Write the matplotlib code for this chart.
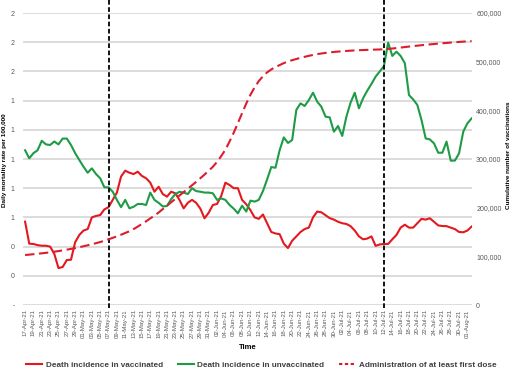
import numpy as np
import pandas as pd
import matplotlib
matplotlib.use('Agg')
import matplotlib.pyplot as plt
from matplotlib.lines import Line2D
from matplotlib.ticker import StrMethodFormatter

plt.rcParams['font.family'] = ['Liberation Sans', 'DejaVu Sans']

# daily series, 17-Apr-21 .. 02-Aug-21
start_date = '2021-04-17'

vaccinated = [
    0.571, 0.42, 0.418, 0.41, 0.406, 0.406, 0.40, 0.35, 0.253, 0.26,
    0.308, 0.31, 0.43, 0.48, 0.51, 0.52, 0.60, 0.61, 0.616, 0.655,
    0.67, 0.72, 0.77, 0.88, 0.92, 0.906, 0.897, 0.913, 0.884, 0.868,
    0.838, 0.776, 0.81, 0.76, 0.742, 0.776, 0.765, 0.72, 0.662, 0.70,
    0.72, 0.70, 0.66, 0.594, 0.632, 0.685, 0.692, 0.747, 0.838, 0.822,
    0.80, 0.80, 0.72, 0.69, 0.65, 0.60, 0.59, 0.62, 0.56, 0.50,
    0.49, 0.485, 0.42, 0.39, 0.44, 0.47, 0.50, 0.52, 0.53, 0.60,
    0.64, 0.635, 0.615, 0.595, 0.585, 0.57, 0.56, 0.555, 0.54, 0.51,
    0.47, 0.45, 0.455, 0.47, 0.405, 0.415, 0.418, 0.418, 0.45, 0.48,
    0.53, 0.55, 0.53, 0.53, 0.56, 0.59, 0.585, 0.594, 0.57, 0.545,
    0.541, 0.54, 0.53, 0.52, 0.50, 0.498, 0.51, 0.537,
]

unvaccinated = [
    1.06, 1.005, 1.04, 1.06, 1.125, 1.10, 1.096, 1.12, 1.10, 1.14,
    1.14, 1.096, 1.04, 0.993, 0.947, 0.906, 0.936, 0.897, 0.868, 0.806,
    0.806, 0.776, 0.72, 0.67, 0.72, 0.662, 0.673, 0.692, 0.692, 0.685,
    0.77, 0.72, 0.70, 0.675, 0.678, 0.725, 0.76, 0.775, 0.77, 0.76,
    0.80, 0.78, 0.776, 0.77, 0.77, 0.765, 0.72, 0.73, 0.72, 0.685,
    0.66, 0.628, 0.68, 0.64, 0.715, 0.708, 0.72, 0.78, 0.86, 0.945,
    0.94, 1.06, 1.148, 1.11, 1.13, 1.336, 1.381, 1.363, 1.404, 1.454,
    1.393, 1.358, 1.29, 1.285, 1.187, 1.226, 1.158, 1.29, 1.386, 1.454,
    1.347, 1.416, 1.468, 1.514, 1.564, 1.60, 1.637, 1.797, 1.706, 1.735,
    1.706, 1.656, 1.438, 1.408, 1.37, 1.267, 1.141, 1.134, 1.107, 1.043,
    1.043, 1.119, 0.989, 0.989, 1.039, 1.187, 1.244, 1.278,
]

first_dose = [
    102700, 103500, 104400, 105300, 106200, 107200, 108300, 109500, 110800, 112200,
    113700, 115300, 117000, 118800, 120700, 122700, 124800, 127000, 129400, 132000,
    135000, 138000, 141200, 144500, 148000, 151500, 156000, 161000, 166500, 172000,
    178000, 183500, 190000, 197000, 204000, 211000, 218000, 225000, 232000, 239000,
    246000, 253000, 260500, 268000, 276000, 284000, 294000, 306000, 319000, 336000,
    354000, 374000, 394000, 414000, 432000, 447000, 460000, 470000, 478000, 484000,
    489000, 493000, 497000, 500500, 503000, 505500, 507800, 510000, 512000, 513800,
    515400, 516800, 518000, 519000, 519900, 520700, 521400, 522000, 522600, 523100,
    523500, 523900, 524200, 524500, 524800, 525100, 525400, 526200, 527000, 528000,
    529000, 530000, 531000, 532000, 532900, 533800, 534700, 535500, 536300, 537100,
    537800, 538500, 539200, 539900, 540600, 541200, 541800, 542500,
]

left_tick_labels = ['-', '0', '0', '1', '1', '1', '1', '1', '2', '2', '2']
marker_dates = ['2021-05-07', '2021-07-12']

dates = pd.date_range(start_date, periods=len(vaccinated))
x = np.arange(len(dates))

red = '#E3191F'
green = '#1E9B45'
dose_red = '#DD1C2E'
grey_txt = '#595959'

fig = plt.figure(figsize=(5.12, 3.72), dpi=100)
ax = fig.add_axes([23 / 512, 67 / 372, 449 / 512, 292 / 372])
ax2 = ax.twinx()

ax.plot(x, vaccinated, color=red, lw=1.5, zorder=3)
ax.plot(x, unvaccinated, color=green, lw=1.5, zorder=3)
ax2.plot(x, first_dose, color=dose_red, lw=1.5, ls=(0, (4.5, 2.2)))

for d in marker_dates:
    i = dates.get_loc(pd.Timestamp(d))
    ax.axvline(i, ymin=-0.01, ymax=1.045, color='black', lw=1.3,
               ls=(0, (2.6, 1.4)), clip_on=False, zorder=5)

ax.set_xlim(-0.5, len(x) - 0.9)
ax.set_ylim(0, 2.0)
ax.set_yticks(np.arange(0, 2.01, 0.2))
ax.set_yticklabels(left_tick_labels)
ax.yaxis.grid(True, color='#D9D9D9', lw=1.3)
ax.set_axisbelow(True)

ax.set_xticks(x[::2])
ax.set_xticklabels(dates[::2].strftime('%d-%b-%y'), rotation=90)
ax.tick_params(axis='x', length=0, pad=3, labelsize=4.4, labelcolor=grey_txt)
ax.tick_params(axis='y', length=0, pad=6, labelsize=5, labelcolor=grey_txt)
ax.set_xlabel('Time', fontsize=5.5, fontweight='bold', labelpad=4)

ax2.set_ylim(0, 600000)
ax2.set_yticks(np.arange(0, 600001, 100000))
ax2.yaxis.set_major_formatter(StrMethodFormatter('{x:,.0f}'))
ax2.tick_params(axis='y', length=0, pad=3, labelsize=5, labelcolor=grey_txt)

for a in (ax, ax2):
    for s in a.spines.values():
        s.set_visible(False)

fig.text(5 / 512, 1 - 160 / 372, 'Daily mortality rate per 100,000', rotation=90,
         ha='center', va='center', fontsize=4.6, fontweight='bold')
fig.text(508 / 512, 1 - 155 / 372, 'Cumulative number of vaccinations', rotation=90,
         ha='center', va='center', fontsize=4.6, fontweight='bold')

handles = [
    Line2D([], [], color=red, lw=1.5),
    Line2D([], [], color=green, lw=1.5),
    Line2D([], [], color=dose_red, lw=1.5, ls=(0, (1.6, 1.2))),
]
labels = ['Death incidence in vaccinated', 'Death incidence in unvaccinated',
          'Administration of at least first dose']
leg = fig.legend(handles, labels, loc='center', bbox_to_anchor=(0.51, 7 / 372), ncol=3,
                 frameon=False, prop={'size': 5.9, 'weight': 'bold'},
                 handlelength=2.0, handletextpad=0.4, columnspacing=1.8)
for t in leg.get_texts():
    t.set_color('#404040')

fig.savefig('out.png', dpi=100)
